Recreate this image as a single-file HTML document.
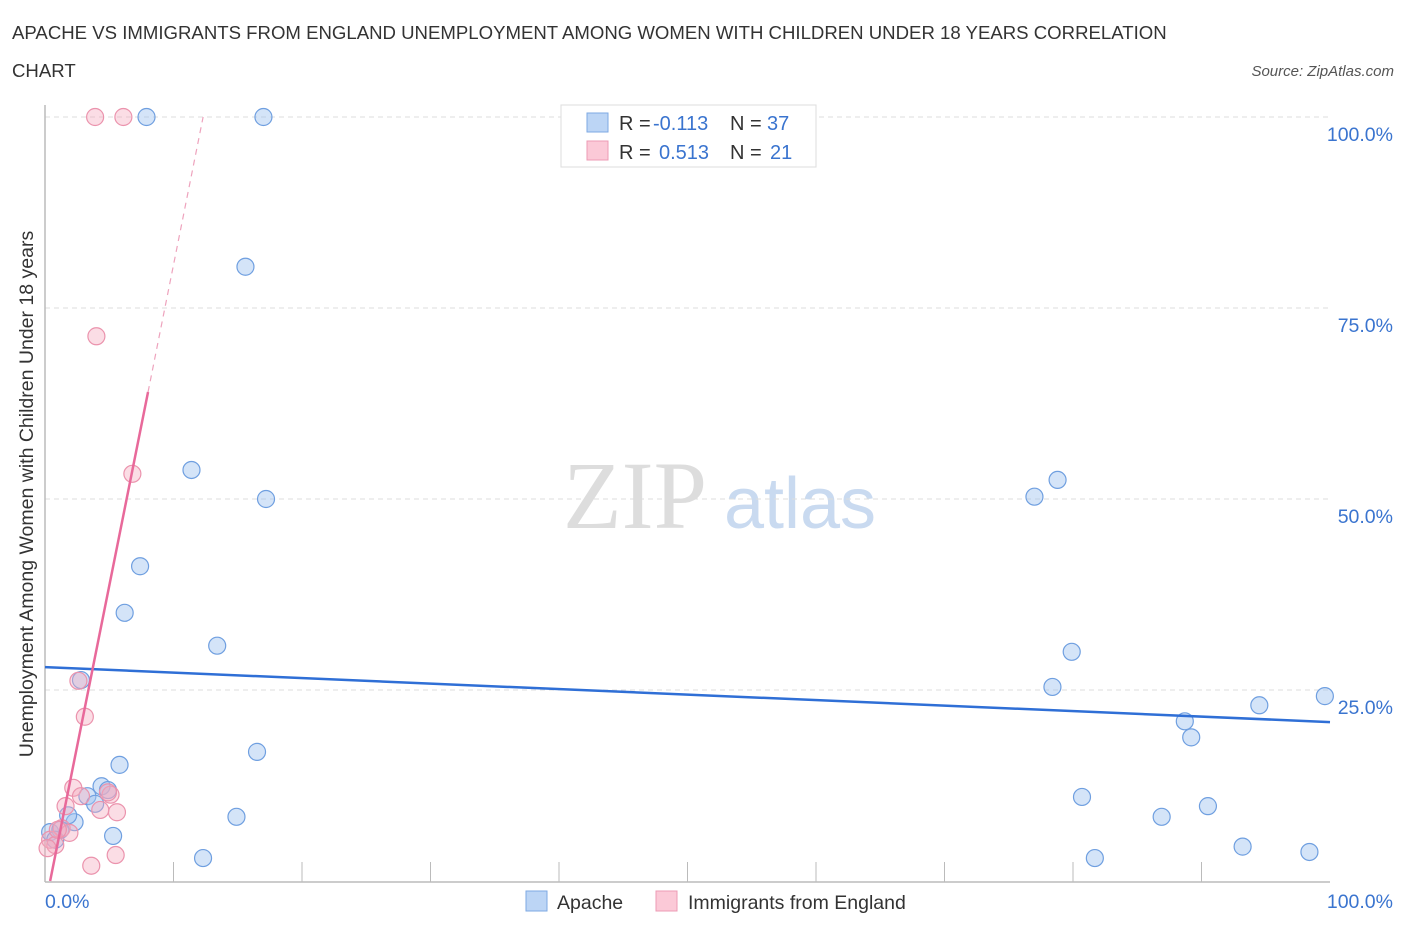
<!DOCTYPE html>
<html><head><meta charset="utf-8"><style>
body{margin:0;background:#fff;font-family:"Liberation Sans",sans-serif;}
svg{display:block}
</style></head><body>
<svg width="1406" height="930" viewBox="0 0 1406 930">
<text x="12" y="39" font-size="18.6" fill="#333">APACHE VS IMMIGRANTS FROM ENGLAND UNEMPLOYMENT AMONG WOMEN WITH CHILDREN UNDER 18 YEARS CORRELATION</text>
<text x="12" y="77" font-size="18.6" fill="#333">CHART</text>
<text x="1394" y="76" font-size="15" font-style="italic" fill="#555" text-anchor="end">Source: ZipAtlas.com</text>
<text x="33" y="494" font-size="19.5" fill="#333" text-anchor="middle" transform="rotate(-90 33 494)">Unemployment Among Women with Children Under 18 years</text>
<g>
<text x="635" y="528" font-size="96" font-family="Liberation Serif,serif" fill="#ddd" text-anchor="middle">ZIP</text>
<text x="800" y="528" font-size="72" fill="#c9daf0" text-anchor="middle">atlas</text>
</g>
<g id="grid"></g>
<g id="axes"></g>
<g id="marks"></g>
<g>
<rect x="561" y="105" width="255" height="62" fill="#fff" stroke="#ddd"/>
<rect x="587" y="113" width="21" height="19" fill="#bcd5f5" stroke="#7ea9e3"/>
<rect x="587" y="141" width="21" height="19" fill="#fbc9d7" stroke="#ec9bb4"/>
<text x="619" y="130" font-size="20" fill="#333">R =</text><text x="653" y="130" font-size="20" fill="#3a74cf">-0.113</text>
<text x="730" y="130" font-size="20" fill="#333">N =</text><text x="767" y="130" font-size="20" fill="#3a74cf">37</text>
<text x="619" y="159" font-size="20" fill="#333">R =</text><text x="659" y="159" font-size="20" fill="#3a74cf">0.513</text>
<text x="730" y="159" font-size="20" fill="#333">N =</text><text x="770" y="159" font-size="20" fill="#3a74cf">21</text>
</g>
<g>
<rect x="526" y="891" width="21" height="20" fill="#bcd5f5" stroke="#7ea9e3"/>
<text x="557" y="909" font-size="19.5" fill="#333">Apache</text>
<rect x="656" y="891" width="21" height="20" fill="#fbc9d7" stroke="#ec9bb4"/>
<text x="688" y="909" font-size="19.5" fill="#333">Immigrants from England</text>
</g>
</svg>
<script>
const apacheX=[7.9,17.0,15.6,11.4,17.2,7.4,6.2,13.4,2.8,16.5,5.8,4.4,4.9,3.3,3.9,2.3,1.8,5.3,14.9,12.3,0.4,1.2,0.8,77.0,78.8,79.9,78.4,88.7,89.2,94.5,99.6,80.7,86.9,90.5,81.7,93.2,98.4];
const apacheY=[100,100,80.4,53.8,50.0,41.2,35.1,30.8,26.3,16.9,15.2,12.4,11.9,11.1,10.1,7.7,8.6,5.9,8.4,3.0,6.4,6.7,5.4,50.3,52.5,30.0,25.4,20.9,18.8,23.0,24.2,11.0,8.4,9.8,3.0,4.5,3.8];
const englandX=[3.9,6.1,4.0,6.8,2.6,3.1,2.2,1.6,2.8,5.1,4.9,5.6,4.3,1.3,1.9,0.4,0.8,0.2,5.5,3.6,1.0];
const englandY=[100,100,71.3,53.3,26.2,21.5,12.2,9.8,11.1,11.3,11.6,9.0,9.3,6.9,6.3,5.4,4.7,4.3,3.4,2.0,6.7];
const yTicks=[25,50,75,100];
const yTickLabels=["25.0%","50.0%","75.0%","100.0%"];
const apacheTrend=[28.0,20.8];
const englandTrend={x0:0.4,slope:8.4};
const NS="http://www.w3.org/2000/svg";
const X=v=>45+v*12.85, Y=v=>881-v*7.64;
function mk(p,t,a){const e=document.createElementNS(NS,t);for(const k in a)e.setAttribute(k,a[k]);p.appendChild(e);return e;}
const grid=document.getElementById('grid'),axes=document.getElementById('axes'),marks=document.getElementById('marks');
yTicks.forEach((t,i)=>{
 const l=mk(grid,'line',{x1:45,x2:1330,y1:Y(t),y2:Y(t),stroke:'#ddd','stroke-dasharray':'5,4'});
 
 
 const tx=mk(grid,'text',{x:1393,y:Y(t)+24,'font-size':19.5,fill:'#3a74cf','text-anchor':'end'});
 tx.textContent=yTickLabels[i];
 
 
});
const ax=mk(axes,'line',{x1:45,x2:1330,y1:882,y2:882,stroke:'#bbb','stroke-width':1.5});


const ay=mk(axes,'line',{x1:45,x2:45,y1:105,y2:882,stroke:'#bbb','stroke-width':1.5});


for(let i=1;i<10;i++){const t=mk(axes,'line',{x1:X(i*10),x2:X(i*10),y1:862,y2:882,stroke:'#bbb'});
 
 }
const xl=mk(axes,'text',{x:45,y:908,'font-size':19.5,fill:'#3a74cf'});xl.textContent='0.0%';


const xr=mk(axes,'text',{x:1393,y:908,'font-size':19.5,fill:'#3a74cf','text-anchor':'end'});xr.textContent='100.0%';


apacheX.forEach((v,i)=>{const c=mk(marks,'circle',{cx:X(v),cy:Y(apacheY[i]),r:8.5,fill:'rgba(160,195,240,0.45)',stroke:'#6f9fe0','stroke-width':1.2});
 
 });
englandX.forEach((v,i)=>{const c=mk(marks,'circle',{cx:X(v),cy:Y(englandY[i]),r:8.5,fill:'rgba(245,170,190,0.4)',stroke:'#eb93ad','stroke-width':1.2});
 
 });
const bt=mk(marks,'line',{x1:X(0),y1:Y(apacheTrend[0]),x2:X(100),y2:Y(apacheTrend[1]),stroke:'#2f6fd6','stroke-width':2.5});


const ex=englandTrend.x0+64/englandTrend.slope, ex2=englandTrend.x0+100/englandTrend.slope;
const pt=mk(marks,'line',{x1:X(englandTrend.x0),y1:Y(0),x2:X(ex),y2:Y(64),stroke:'#e8699a','stroke-width':2.5});


const pd=mk(marks,'line',{x1:X(ex),y1:Y(64),x2:X(ex2),y2:Y(100),stroke:'#eea3bd','stroke-width':1.2,'stroke-dasharray':'6,5'});


</script>
</body></html>
